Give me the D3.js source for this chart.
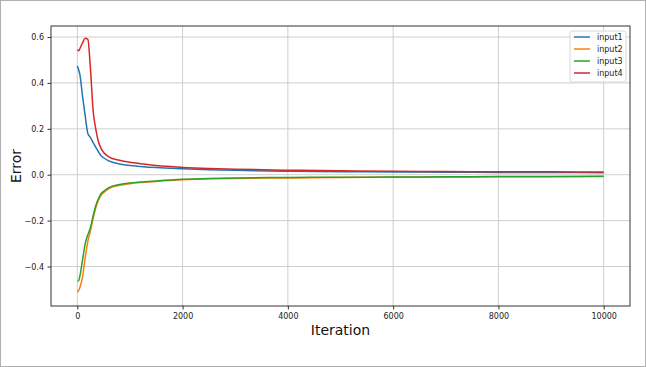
<!DOCTYPE html>
<html>
<head>
<meta charset="utf-8">
<script src="https://cdn.jsdelivr.net/npm/d3@7"></script>
<style>
  body { margin: 0; background: #fff; }
  svg { display: block; font-family: 'DejaVu Sans', sans-serif; }
</style>
</head>
<body>
<div id="chart"></div>
<script>
const iterations = [0, 25, 50, 100, 150, 200, 250, 300, 350, 400, 450, 500, 600, 800, 1000, 1200, 1500, 2000, 2500, 3000, 4000, 5000, 6000, 7000, 8000, 9000, 10000];

const input1 = [0.474, 0.457, 0.435, 0.34, 0.256, 0.18, 0.162, 0.14, 0.12, 0.1, 0.083, 0.074, 0.06, 0.047, 0.04, 0.036, 0.031, 0.026, 0.022, 0.019, 0.015, 0.013, 0.012, 0.011, 0.010, 0.0095, 0.009];
const input2 = [-0.512, -0.505, -0.49, -0.445, -0.36, -0.29, -0.245, -0.19, -0.145, -0.112, -0.09, -0.078, -0.06, -0.046, -0.039, -0.034, -0.029, -0.022, -0.018, -0.016, -0.014, -0.012, -0.011, -0.01, -0.009, -0.0085, -0.008];
const input3 = [-0.464, -0.462, -0.44, -0.37, -0.30, -0.262, -0.23, -0.18, -0.135, -0.105, -0.083, -0.072, -0.056, -0.043, -0.036, -0.032, -0.027, -0.02, -0.016, -0.014, -0.012, -0.011, -0.01, -0.009, -0.008, -0.0075, -0.007];
const input4 = [0.545, 0.54, 0.55, 0.575, 0.595, 0.59, 0.46, 0.28, 0.2, 0.145, 0.115, 0.097, 0.078, 0.063, 0.054, 0.048, 0.04, 0.032, 0.027, 0.024, 0.02, 0.017, 0.015, 0.014, 0.013, 0.0125, 0.012];

const seriesNames = ['input1', 'input2', 'input3', 'input4'];
const seriesValues = [input1, input2, input3, input4];
const colors = ['#1f77b4', '#ff7f0e', '#2ca02c', '#d62728'];

const xTicks = [0, 2000, 4000, 6000, 8000, 10000];
const yTicks = [-0.4, -0.2, 0.0, 0.2, 0.4, 0.6];

const width = 646;
const height = 367;
const margin = { top: 26, right: 16, bottom: 61, left: 51 };
const chartWidth = width - margin.left - margin.right;
const chartHeight = height - margin.top - margin.bottom;

const svg = d3.select('#chart').append('svg').attr('width', width).attr('height', height);

// figure border
svg.append('rect')
    .attr('x', 0.5).attr('y', 0.5)
    .attr('width', width - 1).attr('height', height - 1)
    .attr('fill', '#fff').attr('stroke', '#b0b0b0');

const chart = svg.append('g').attr('transform', `translate(${margin.left}, ${margin.top})`);

const xScale = d3.scaleLinear().domain([-500, 10500]).range([0, chartWidth]);
const yScale = d3.scaleLinear().domain([-0.572, 0.648]).range([chartHeight, 0]);

const fmtY = (d) => d3.format('.1f')(d).replace('-', '\u2212');

// grid
chart.append('g')
    .selectAll('line')
    .data(xTicks)
    .join('line')
    .attr('x1', (d) => xScale(d)).attr('x2', (d) => xScale(d))
    .attr('y1', 0).attr('y2', chartHeight)
    .attr('stroke', '#cfcfcf').attr('stroke-width', 1);

chart.append('g')
    .selectAll('line')
    .data(yTicks)
    .join('line')
    .attr('x1', 0).attr('x2', chartWidth)
    .attr('y1', (d) => yScale(d)).attr('y2', (d) => yScale(d))
    .attr('stroke', '#cfcfcf').attr('stroke-width', 1);

// axes
const xAxis = chart.append('g')
    .attr('transform', `translate(0, ${chartHeight})`)
    .call(d3.axisBottom(xScale).tickValues(xTicks).tickSize(3.5).tickPadding(3.5).tickFormat(d3.format('d')));
const yAxis = chart.append('g')
    .call(d3.axisLeft(yScale).tickValues(yTicks).tickSize(3.5).tickPadding(3.5).tickFormat(fmtY));

[xAxis, yAxis].forEach((ax) => {
    ax.select('.domain').remove();
    ax.selectAll('text').attr('font-size', 8).attr('fill', '#222').attr('font-family', 'DejaVu Sans, sans-serif');
    ax.selectAll('line').attr('stroke', '#333');
});

// lines
const line = d3.line()
    .x((d) => xScale(d[0]))
    .y((d) => yScale(d[1]))
    .curve(d3.curveMonotoneX);

seriesValues.forEach((vals, i) => {
    chart.append('path')
        .datum(iterations.map((it, j) => [it, vals[j]]))
        .attr('d', line)
        .attr('fill', 'none')
        .attr('stroke', colors[i])
        .attr('stroke-width', 1.5);
});

// frame
chart.append('rect')
    .attr('width', chartWidth).attr('height', chartHeight)
    .attr('fill', 'none').attr('stroke', '#333').attr('stroke-width', 1);

// axis labels
svg.append('text')
    .attr('x', margin.left + chartWidth / 2)
    .attr('y', 335)
    .attr('text-anchor', 'middle')
    .attr('font-size', 14)
    .attr('fill', '#111')
    .text('Iteration');

svg.append('text')
    .attr('transform', `translate(21, ${margin.top + chartHeight / 2}) rotate(-90)`)
    .attr('text-anchor', 'middle')
    .attr('font-size', 14)
    .attr('fill', '#111')
    .text('Error');

// legend
const legend = svg.append('g').attr('transform', 'translate(570, 31)');
legend.append('rect')
    .attr('width', 56).attr('height', 51)
    .attr('rx', 2)
    .attr('fill', '#fff').attr('fill-opacity', 0.8)
    .attr('stroke', '#d8d8d8');

seriesNames.forEach((name, i) => {
    const y = 6 + i * 12;
    legend.append('line')
        .attr('x1', 4).attr('x2', 20)
        .attr('y1', y).attr('y2', y)
        .attr('stroke', colors[i]).attr('stroke-width', 1.5);
    legend.append('text')
        .attr('x', 27).attr('y', y)
        .attr('dy', '0.35em')
        .attr('font-size', 8)
        .attr('fill', '#222')
        .text(name);
});
</script>
</body>
</html>
